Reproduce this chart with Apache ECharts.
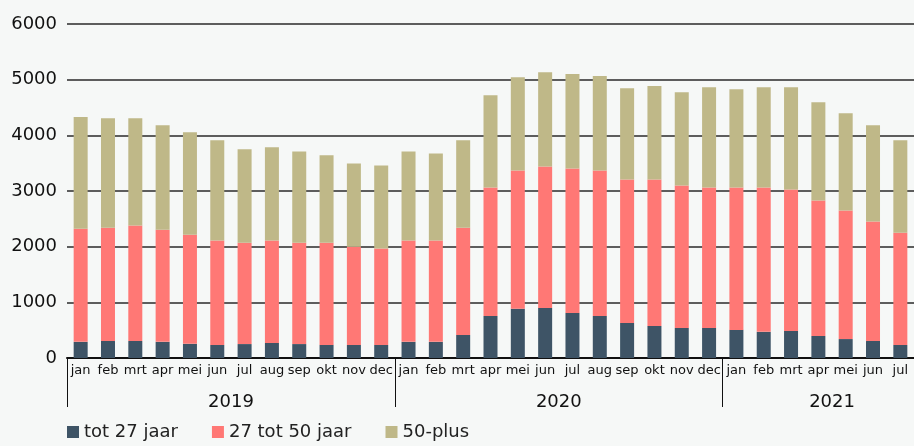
<!DOCTYPE html>
<html>
<head>
<meta charset="utf-8">
<script src="https://cdn.jsdelivr.net/npm/echarts@6/dist/echarts.min.js"></script>
<style>
  html, body { margin: 0; padding: 0; background: #f6f8f7; }
  #main { width: 914px; height: 446px; }
</style>
</head>
<body>
<div id="main"></div>
<script>
var months = ['jan','feb','mrt','apr','mei','jun','jul','aug','sep','okt','nov','dec',
  'jan','feb','mrt','apr','mei','jun','jul','aug','sep','okt','nov','dec',
  'jan','feb','mrt','apr','mei','jun','jul'];
var years = ['2019', '2020', '2021'];
var yearPos = [6, 18, 28];
var yearStarts = [0, 12, 24];

var tot27 = [290,305,305,290,255,235,250,270,250,235,235,235,
  290,290,415,755,885,900,810,755,630,575,540,540,
  505,470,485,395,340,305,235];
var tot27to50 = [2030,2035,2075,2015,1960,1875,1820,1840,1820,1835,1765,1730,
  1820,1820,1925,2310,2485,2540,2595,2615,2575,2630,2560,2525,
  2560,2595,2540,2435,2310,2145,2015];
var plus50 = [2010,1965,1925,1875,1840,1800,1680,1675,1640,1570,1495,1495,
  1600,1565,1570,1655,1675,1695,1695,1695,1640,1680,1675,1800,
  1765,1800,1840,1765,1745,1730,1660];

var font = 'DejaVu Sans';
var chart = echarts.init(document.getElementById('main'));
chart.setOption({
  backgroundColor: '#f6f8f7',
  animation: false,
  color: ['#3e5466', '#ff7875', '#bfb888'],
  grid: { left: 67, right: 0, top: 24, bottom: 88 },
  legend: {
    left: 62, bottom: 0,
    itemWidth: 12, itemHeight: 12, itemGap: 34,
    icon: 'rect',
    textStyle: { fontFamily: font, fontSize: 18, color: '#222' },
    data: ['tot 27 jaar', '27 tot 50 jaar', '50-plus']
  },
  xAxis: [
    {
      type: 'category',
      data: months,
      axisLine: { lineStyle: { color: '#111', width: 2 } },
      axisTick: {
        show: true, length: 49,
        interval: function (i) { return yearStarts.indexOf(i) >= 0; },
        lineStyle: { color: '#111', width: 1 }
      },
      axisLabel: { interval: 0, margin: 6, fontFamily: font, fontSize: 13, color: '#111' }
    },
    {
      type: 'value',
      position: 'bottom',
      min: 0, max: 31,
      axisLine: { show: false },
      axisTick: { show: false },
      splitLine: { show: false },
      axisLabel: {
        customValues: yearPos,
        margin: 35,
        fontFamily: font, fontSize: 18, color: '#111',
        formatter: function (v) { return years[yearPos.indexOf(v)]; }
      }
    }
  ],
  yAxis: {
    type: 'value', min: 0, max: 6000, interval: 1000,
    axisLine: { show: false },
    axisTick: { show: false },
    splitLine: { lineStyle: { color: '#2a2a2a', width: 1.5 } },
    axisLabel: {
      margin: 10, fontFamily: font, fontSize: 18, color: '#111',
      formatter: function (v) { return String(v); }
    }
  },
  series: [
    { name: 'tot 27 jaar', type: 'bar', stack: 'a', barWidth: 14, data: tot27 },
    { name: '27 tot 50 jaar', type: 'bar', stack: 'a', barWidth: 14, data: tot27to50 },
    { name: '50-plus', type: 'bar', stack: 'a', barWidth: 14, data: plus50 }
  ]
});
</script>
</body>
</html>
